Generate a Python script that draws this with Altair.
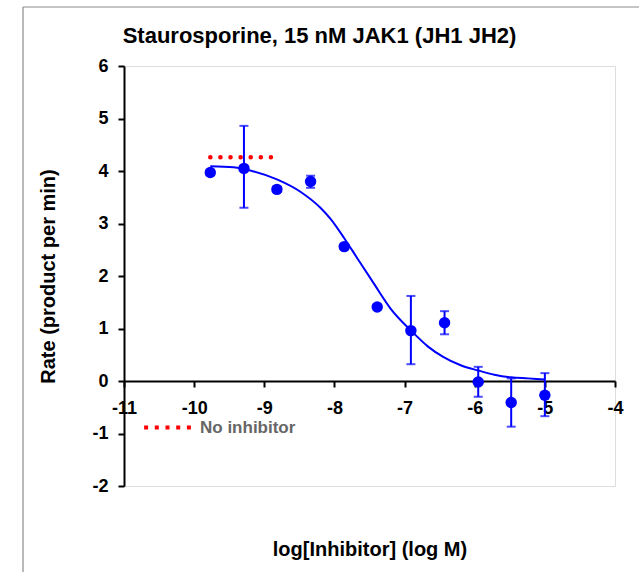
import altair as alt
import pandas as pd

FONT = "Liberation Sans, Arial, sans-serif"
BLUE = "#0000ff"
RED = "#ff0000"

# Measured rates at each inhibitor concentration (3-fold dilution series)
log_conc = [-9.77, -9.29, -8.82, -8.34, -7.86, -7.39, -6.91, -6.43, -5.95, -5.48, -5.00]
rate = [3.97, 4.05, 3.65, 3.80, 2.56, 1.41, 0.96, 1.11, -0.02, -0.41, -0.27]
rate_lo = [3.92, 3.30, 3.60, 3.68, 2.51, 1.36, 0.32, 0.89, -0.30, -0.87, -0.67]
rate_hi = [4.02, 4.86, 3.70, 3.91, 2.61, 1.46, 1.62, 1.33, 0.27, 0.05, 0.15]

# Dose-response fit curve
fit_x = [-9.77, -9.44, -9.15, -8.82, -8.48, -8.20, -8.05, -7.86, -7.67, -7.43,
         -7.20, -6.90, -6.67, -6.45, -6.20, -5.95, -5.72, -5.48, -5.24, -5.00]
fit_y = [4.09, 4.07, 3.99, 3.84, 3.60, 3.30, 3.08, 2.72, 2.33, 1.84,
         1.38, 0.95, 0.66, 0.46, 0.30, 0.20, 0.12, 0.07, 0.05, 0.03]

# Uninhibited control rate
control_x = [-9.77, -8.87]
control_rate = 4.26
control_label = "No inhibitor"

x_ticks = [-11, -10, -9, -8, -7, -6, -5, -4]
y_ticks = [-2, -1, 0, 1, 2, 3, 4, 5, 6]

pts = pd.DataFrame({"x": log_conc, "y": rate, "lo": rate_lo, "hi": rate_hi})
fit = pd.DataFrame({"x": fit_x, "y": fit_y})
ctrl = pd.DataFrame({"x": [control_x[0]], "x2": [control_x[1]],
                     "y": [control_rate], "series": [control_label]})

W, H = 491, 420
x_scale = alt.Scale(domain=[-11, -4], nice=False, zero=False)
y_scale = alt.Scale(domain=[-2, 6], nice=False, zero=False)

x_axis = alt.Axis(
    values=x_ticks, grid=False, offset=-105, tickSize=6, tickWidth=2,
    domainWidth=2, domainColor="black", tickColor="black",
    labelFont=FONT, labelFontSize=18, labelFontWeight="bold", labelColor="black",
    labelPadding=12, labelFlush=False, labelOverlap=False,
    labelExpr="'' + datum.value",
    title="log[Inhibitor] (log M)", titleFont=FONT, titleFontSize=20,
    titleFontWeight="bold", titleColor="black", titlePadding=122,
)
y_axis = alt.Axis(
    values=y_ticks, grid=False, tickSize=6, tickWidth=2,
    domainWidth=2, domainColor="black", tickColor="black",
    labelFont=FONT, labelFontSize=18, labelFontWeight="bold", labelColor="black",
    labelPadding=10, labelOverlap=False, labelExpr="'' + datum.value",
    title="Rate (product per min)", titleFont=FONT, titleFontSize=20,
    titleFontWeight="bold", titleColor="black", titlePadding=33,
)

errbars = alt.Chart(pts).mark_rule(color=BLUE, strokeWidth=2).encode(
    x=alt.X("x:Q", scale=x_scale, axis=x_axis),
    y=alt.Y("lo:Q", scale=y_scale, axis=y_axis),
    y2="hi:Q",
)
caps_lo = alt.Chart(pts).mark_tick(color=BLUE, size=9, thickness=2, orient="horizontal").encode(
    x="x:Q", y="lo:Q"
)
caps_hi = alt.Chart(pts).mark_tick(color=BLUE, size=9, thickness=2, orient="horizontal").encode(
    x="x:Q", y="hi:Q"
)
points = alt.Chart(pts).mark_circle(color=BLUE, size=130, opacity=1).encode(x="x:Q", y="y:Q")
curve = alt.Chart(fit).mark_line(color=BLUE, strokeWidth=2, interpolate="monotone").encode(
    x="x:Q", y="y:Q"
)
control = alt.Chart(ctrl).mark_rule(strokeWidth=4.5, strokeDash=[0.1, 10], strokeCap="round").encode(
    x="x:Q", x2="x2:Q", y="y:Q",
    color=alt.Color(
        "series:N",
        scale=alt.Scale(domain=[control_label], range=[RED]),
        legend=alt.Legend(
            title=None, orient="none", legendX=18, legendY=336,
            symbolType="stroke", symbolStrokeWidth=4, symbolDash=[4, 6.7],
            symbolSize=2190, labelFont=FONT, labelFontSize=17,
            labelFontWeight="bold", labelColor="#666666", labelOffset=7,
            padding=0,
        ),
    ),
)

# Outer frame lines (left and top edges)
frame_data = alt.Data(values=[{}])
frame_left = alt.Chart(frame_data).mark_rule(color="#8c8c8c", strokeWidth=1.2).encode(
    x=alt.value(-101), y=alt.value(-59), y2=alt.value(506)
)
frame_top = alt.Chart(frame_data).mark_rule(color="#8c8c8c", strokeWidth=1.2).encode(
    x=alt.value(-101), x2=alt.value(515), y=alt.value(-59)
)

chart = alt.layer(
    errbars, caps_lo, caps_hi, points, curve, control, frame_left, frame_top
).properties(
    width=W, height=H,
    title=alt.TitleParams(
        "Staurosporine, 15 nM JAK1 (JH1 JH2)", font=FONT, fontSize=22,
        fontWeight="bold", color="black", anchor="middle", frame="group",
        dx=-50, dy=46,
    ),
    autosize=alt.AutoSizeParams(type="none"),
    padding={"left": 124, "top": 66, "right": 24, "bottom": 86},
).configure_view(stroke=None).configure(background="white")

chart.save("out.html", embed_options={"renderer": "svg", "actions": False})
